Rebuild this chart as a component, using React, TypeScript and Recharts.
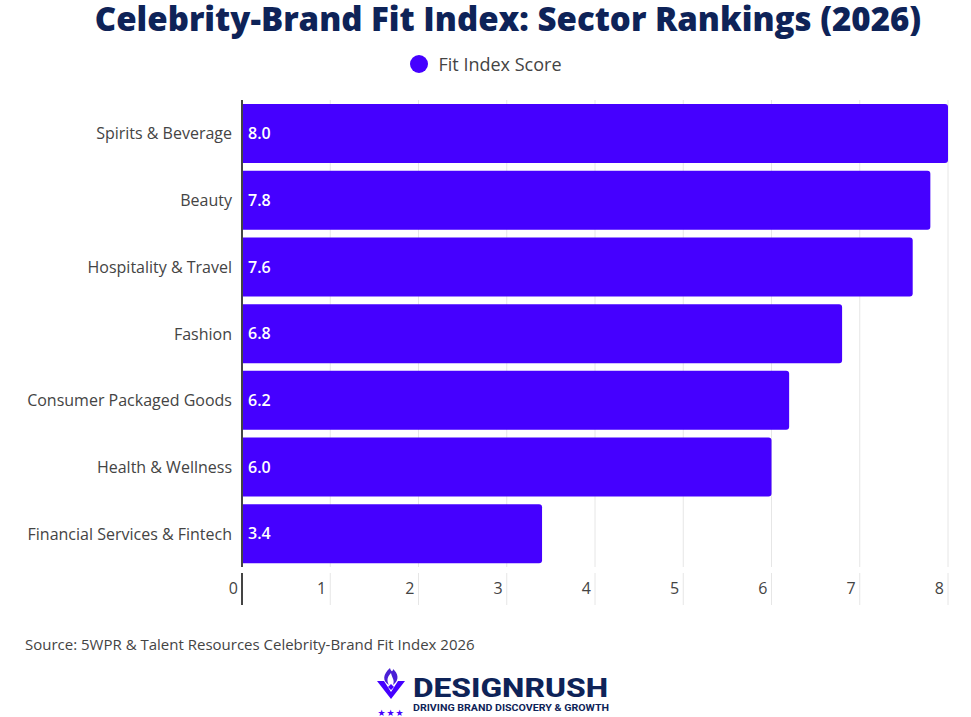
import React from "react";
import {
  BarChart,
  Bar,
  XAxis,
  YAxis,
  CartesianGrid,
  LabelList,
} from "recharts";

const sectors = [
  "Spirits & Beverage",
  "Beauty",
  "Hospitality & Travel",
  "Fashion",
  "Consumer Packaged Goods",
  "Health & Wellness",
  "Financial Services & Fintech",
];
const fitScores = [8.0, 7.8, 7.6, 6.8, 6.2, 6.0, 3.4];
const xTicks = [0, 1, 2, 3, 4, 5, 6, 7, 8];

const seriesName = "Fit Index Score";
const title = "Celebrity-Brand Fit Index: Sector Rankings (2026)";
const source = "Source: 5WPR & Talent Resources Celebrity-Brand Fit Index 2026";

const data = sectors.map((sector, i) => ({ sector, score: fitScores[i] }));

const FONT = "'Open Sans', 'DejaVu Sans', sans-serif";
const BAR_COLOR = "#4500ff";
const NAVY = "#0e2358";
const TEXT = "#444444";

const XTick = (props: any) => {
  const { x, y, payload } = props;
  const isZero = payload.value === 0;
  return (
    <g>
      <line
        x1={x}
        x2={x}
        y1={y - 2}
        y2={y + 30}
        stroke={isZero ? "#444" : "#e6e6e6"}
        strokeWidth={isZero ? 2 : 1}
      />
      <text
        x={x - 4}
        y={y + 19}
        textAnchor="end"
        fill={TEXT}
        fontSize={16}
        fontFamily={FONT}
      >
        {payload.value}
      </text>
    </g>
  );
};

const YTick = (props: any) => {
  const { x, y, payload } = props;
  return (
    <text
      x={x - 2}
      y={y + 6}
      textAnchor="end"
      fill={TEXT}
      fontSize={16}
      fontFamily={FONT}
    >
      {payload.value}
    </text>
  );
};

const Logo = () => (
  <svg width={250} height={55} viewBox="0 0 250 55">
    {/* flame */}
    <path
      d="M20 6 C 13 12, 12 19, 19 23 C 16 18, 18 14, 21 11 C 22 16, 25 18, 23 23 C 30 18, 28 11, 23 7 C 23 10, 21 10, 20 6 Z"
      fill="#4a1fd6"
    />
    {/* V */}
    <path d="M7 19 L 14 19 L 21 30 L 28 19 L 35 19 L 21 37 Z" fill="#4500ff" />
    <path d="M21 22 L 24 25 L 21 28 L 18 25 Z" fill="#4500ff" />
    {/* stars */}
    <text x={21} y={54} textAnchor="middle" fontSize={9} fill="#4500ff" fontFamily="'DejaVu Sans', sans-serif" letterSpacing={1}>
      ★★★
    </text>
    <text
      x={43}
      y={35}
      fontSize={26}
      fontWeight={800}
      fill={NAVY}
      fontFamily="'Roboto', 'Open Sans', sans-serif"
      textLength={195}
      lengthAdjust="spacingAndGlyphs"
    >
      DESIGNRUSH
    </text>
    <text
      x={43}
      y={49}
      fontSize={9.5}
      fontWeight={700}
      fill={NAVY}
      fontFamily="'Roboto', 'Open Sans', sans-serif"
      textLength={196}
      lengthAdjust="spacingAndGlyphs"
    >
      DRIVING BRAND DISCOVERY &amp; GROWTH
    </text>
  </svg>
);

export default function App() {
  return (
    <div
      style={{
        position: "absolute",
        left: 0,
        top: 0,
        width: 971,
        height: 717,
        background: "#ffffff",
        fontFamily: FONT,
        overflow: "hidden",
      }}
    >
      <div
        style={{
          position: "absolute",
          left: 0,
          top: 0,
          width: 971,
          paddingLeft: 45,
          boxSizing: "border-box",
          textAlign: "center",
          fontSize: 33,
          fontWeight: 800,
          color: NAVY,
          lineHeight: "38px",
          whiteSpace: "nowrap",
        }}
      >
        {title}
      </div>
      <div
        style={{
          position: "absolute",
          left: 0,
          top: 52,
          width: 971,
          height: 24,
          display: "flex",
          justifyContent: "center",
          alignItems: "center",
          fontSize: 18,
          color: TEXT,
        }}
      >
        <span
          style={{
            width: 18,
            height: 18,
            borderRadius: "50%",
            background: BAR_COLOR,
            display: "inline-block",
            marginRight: 11,
          }}
        />
        {seriesName}
      </div>
      <div style={{ position: "absolute", left: 0, top: 0 }}>
        <BarChart
          width={971}
          height={717}
          data={data}
          layout="vertical"
          margin={{ top: 100, right: 23, bottom: 120, left: 0 }}
          barCategoryGap="6%"
        >
          <CartesianGrid horizontal={false} stroke="#e6e6e6" />
          <XAxis
            type="number"
            domain={[0, 8]}
            ticks={xTicks}
            axisLine={false}
            tickLine={false}
            tick={<XTick />}
            height={30}
          />
          <YAxis
            type="category"
            dataKey="sector"
            width={242}
            axisLine={{ stroke: "#444", strokeWidth: 2 }}
            tickLine={false}
            tick={<YTick />}
          />
          <Bar
            dataKey="score"
            name={seriesName}
            fill={BAR_COLOR}
            radius={[0, 3, 3, 0]}
            isAnimationActive={false}
          >
            <LabelList
              dataKey="score"
              position="insideLeft"
              offset={6}
              fill="#ffffff"
              fontSize={16}
              fontWeight={600}
              fontFamily={FONT}
              formatter={(v: any) => Number(v).toFixed(1)}
            />
          </Bar>
        </BarChart>
      </div>
      <div
        style={{
          position: "absolute",
          left: 25,
          top: 634,
          fontSize: 15,
          color: TEXT,
        }}
      >
        {source}
      </div>
      <div style={{ position: "absolute", left: 370, top: 662, lineHeight: 0 }}>
        <Logo />
      </div>
    </div>
  );
}
